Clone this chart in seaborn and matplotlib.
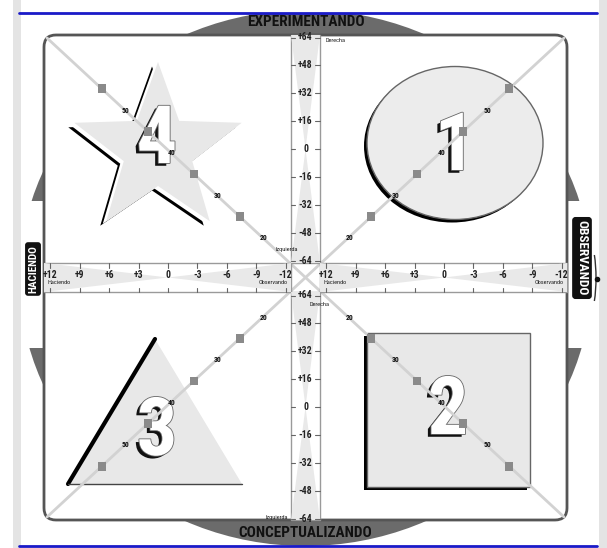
import numpy as np
import pandas as pd
import matplotlib
matplotlib.use("Agg")
import matplotlib.pyplot as plt
import matplotlib.patheffects as pe
from matplotlib.patches import Ellipse, Rectangle, Polygon, FancyBboxPatch, Arc
import seaborn as sns

# --- data -------------------------------------------------------------
vert_values = [64, 48, 32, 16, 0, -16, -32, -48, -64]
horiz_values = [12, 9, 6, 3, 0, -3, -6, -9, -12]
diag_labels = [20, 30, 40, 50]
diag_marks = [25, 35, 45, 55]
quadrant_numbers = ["1", "2", "3", "4"]
pole_top = "EXPERIMENTANDO"
pole_bottom = "CONCEPTUALIZANDO"
pole_left = "HACIENDO"
pole_right = "OBSERVANDO"
vert_words = ["Derecha", "Izquierda"]
horiz_words = ["Haciendo", "Observando"]

sns.set_style("white")
NARROW = ["Liberation Sans Narrow", "Roboto Condensed", "DejaVu Sans"]
plt.rcParams["font.family"] = NARROW

W, H = 607, 548
fig = plt.figure(figsize=(W / 100, H / 100), dpi=100)
ax = fig.add_axes([0, 0, 1, 1])
ax.set_xlim(0, W)
ax.set_ylim(H, 0)
ax.axis("off")

DARK = "#6b6b6b"
LIGHT = "#e9e9e9"
BOLD = dict(fontweight="bold", fontstretch="condensed", family=NARROW)

# frame geometry
L, R, T, B = 44, 567, 35, 520
CX, CY = 305.5, 277.5
BAND_L, BAND_R = 291, 320
BAR_T, BAR_B = 263, 292

# big dark disc peeking out behind the frame
ax.add_patch(Ellipse((CX, 278), 572, 536, fc=DARK, ec="none", zorder=1))
ax.add_patch(Rectangle((0, 0), W, 13, fc="white", ec="none", zorder=2))
ax.add_patch(Rectangle((0, 546), W, 3, fc="white", ec="none", zorder=2))
ax.add_patch(Rectangle((0, 201), L, 147, fc="white", ec="none", zorder=2))
ax.add_patch(Rectangle((R, 201), W - R, 147, fc="white", ec="none", zorder=2))
ax.add_patch(Rectangle((13, 0), 8, H, fc="#e4e4e4", ec="none", zorder=2))
ax.add_patch(Rectangle((599, 0), 8, H, fc="#e4e4e4", ec="none", zorder=2))
ax.plot([19, 597], [13, 13], color="#1a1ac8", lw=2, zorder=3)
ax.plot([19, 597], [546, 546], color="#1a1ac8", lw=2, zorder=3)

ax.add_patch(FancyBboxPatch((L, T), R - L, B - T, boxstyle="round,pad=0,rounding_size=12",
                            fc="white", ec="#555555", lw=2, zorder=3))

ax.text(CX, 22, pole_top, ha="center", va="center", fontsize=11, color="#111", zorder=4, **BOLD)
ax.text(CX, 533, pole_bottom, ha="center", va="center", fontsize=11, color="#111", zorder=4, **BOLD)
ax.text(33, 269, pole_left, rotation=90, ha="center", va="center", fontsize=8, color="white", zorder=4,
        bbox=dict(boxstyle="round,pad=0.2", fc="#111", ec="#111"), **BOLD)
ax.text(582, 258, pole_right, rotation=-90, ha="center", va="center", fontsize=9.5, color="white", zorder=4,
        bbox=dict(boxstyle="round,pad=0.2", fc="#111", ec="#111"), **BOLD)
ax.add_patch(Arc((586, 278), 20, 84, theta1=-70, theta2=70, color="#333", lw=1, zorder=4))
ax.plot([597], [279], "o", color="#111", ms=3, zorder=4)

# --- quadrant shapes ----------------------------------------------------
# 1: circle
ax.add_patch(Ellipse((452, 146), 176, 153, fc="black", ec="none", zorder=4))
ax.add_patch(Ellipse((455, 143), 176, 153, fc="#ececec", ec="#666", lw=1, zorder=4.1))


# 4: star
def star(cx, cy, r_out, r_in):
    ang = np.deg2rad(-90 + 36 * np.arange(10))
    rr = np.where(np.arange(10) % 2 == 0, r_out, r_in)
    return np.column_stack([cx + rr * np.cos(ang), cy + rr * np.sin(ang)])


ax.add_patch(Polygon(star(152, 154.5, 88, 36), fc="black", ec="none", zorder=4))
ax.add_patch(Polygon(star(154.5, 152.6, 88, 36), fc="white", ec="none", zorder=4.05))
ax.add_patch(Polygon(star(158, 150, 88, 36), fc="#e8e8e8", ec="none", zorder=4.1))

# 3: triangle
ax.add_patch(Polygon([(155, 339), (68, 484), (242, 484)], fc="#e8e8e8", ec="none", zorder=4.1))
ax.plot([155, 68], [339, 484], color="black", lw=3, zorder=4.2)
ax.plot([68, 242], [484, 484], color="#444", lw=1, zorder=4.2)

# 2: square
ax.add_patch(Rectangle((364, 336), 163, 154, fc="black", ec="none", zorder=4))
ax.add_patch(Rectangle((367, 333), 163, 154, fc="#e8e8e8", ec="#666", lw=1, zorder=4.1))

num_fx = [pe.SimplePatchShadow(offset=(-2.5, -2), shadow_rgbFace="#111", alpha=1),
          pe.Stroke(linewidth=1.2, foreground="#666"), pe.Normal()]
num_pos = {"1": (455, 148), "2": (448, 412), "3": (157, 433), "4": (157, 141)}
for n in quadrant_numbers:
    x, y = num_pos[n]
    ax.text(x, y, n, ha="center", va="center", fontsize=58, color="white", zorder=5,
            path_effects=num_fx, **BOLD)

# --- diagonals ----------------------------------------------------------
corners = [(L + 3, T + 3), (R - 3, T + 3), (L + 3, B - 3), (R - 3, B - 3)]


def diag_t(v):
    return 0.165 + (v - 20) * 0.0178


for cx_, cy_ in corners:
    ax.plot([cx_, CX], [cy_, CY], color="#d2d2d2", lw=2, zorder=6)

rows = []
for cx_, cy_ in corners:
    for v in diag_marks:
        t = diag_t(v)
        rows.append({"x": CX + t * (cx_ - CX), "y": CY + t * (cy_ - CY)})
    for v in diag_labels:
        t = diag_t(v)
        ax.text(CX + t * (cx_ - CX) + 1, CY + t * (cy_ - CY), str(v), ha="center", va="center",
                fontsize=5.5, color="#111", zorder=7, **BOLD)
marks = pd.DataFrame(rows)
sns.scatterplot(data=marks, x="x", y="y", marker="s", s=38, color="#8a8a8a",
                edgecolor="none", ax=ax, legend=False, zorder=7)
ax.set_xlim(0, W)
ax.set_ylim(H, 0)
ax.axis("off")


# --- central scales -----------------------------------------------------
def fmt(v):
    return "0" if v == 0 else f"{v:+d}"


step_v = 111.5 / 64
for top, bot, mid in [(T, BAR_T, 149), (BAR_B, B, 407)]:
    ax.add_patch(Rectangle((BAND_L, top), BAND_R - BAND_L, bot - top, fc="white", ec="#9a9a9a",
                           lw=1, zorder=8))
    ax.add_patch(Polygon([(BAND_L, top), (BAND_R, top), (CX, mid)], fc=LIGHT, ec="none", zorder=8.1))
    ax.add_patch(Polygon([(BAND_L, bot), (BAND_R, bot), (CX, mid)], fc=LIGHT, ec="none", zorder=8.1))
    for v in vert_values:
        y = mid - v * step_v
        ax.plot([BAND_L, BAND_L + 4], [y, y], color="#666", lw=0.8, zorder=8.2)
        ax.plot([BAND_R - 5, BAND_R], [y, y], color="#666", lw=0.8, zorder=8.2)
        ax.text(CX, y, fmt(v), ha="center", va="center", fontsize=7, color="#222", zorder=8.3, **BOLD)

ax.text(325, 40, vert_words[0], ha="left", va="center", fontsize=4.5, color="#222", zorder=8.3)
ax.text(287, 250, vert_words[1], ha="center", va="center", fontsize=4.5, color="#222", zorder=8.3)
ax.text(320, 304, vert_words[0], ha="center", va="center", fontsize=4.5, color="#222", zorder=8.3)
ax.text(288, 517, vert_words[1], ha="right", va="center", fontsize=4.5, color="#222", zorder=8.3)

step_h = 9.8
for left, right, mid in [(L, BAND_L, 168), (BAND_R, R, 444)]:
    ax.add_patch(Rectangle((left, BAR_T), right - left, BAR_B - BAR_T, fc="white", ec="#9a9a9a",
                           lw=1, zorder=8))
    ax.add_patch(Polygon([(left, BAR_T), (left, BAR_B), (mid, (BAR_T + BAR_B) / 2)], fc=LIGHT,
                         ec="none", zorder=8.1))
    ax.add_patch(Polygon([(right, BAR_T), (right, BAR_B), (mid, (BAR_T + BAR_B) / 2)], fc=LIGHT,
                         ec="none", zorder=8.1))
    for v in horiz_values:
        x = mid - v * step_h
        ax.plot([x, x], [BAR_T, BAR_T + 5], color="#666", lw=0.8, zorder=8.2)
        ax.plot([x, x], [BAR_B - 4, BAR_B], color="#666", lw=0.8, zorder=8.2)
        ax.text(x, 275, fmt(v), ha="center", va="center", fontsize=7, color="#222", zorder=8.3, **BOLD)
    ax.text(left + 4, 283, horiz_words[0], ha="left", va="center", fontsize=4.5, color="#222", zorder=8.3)
    ax.text(right - 3, 283, horiz_words[1], ha="right", va="center", fontsize=4.5, color="#222", zorder=8.3)

fig.savefig("out.png", dpi=100, facecolor="white")
